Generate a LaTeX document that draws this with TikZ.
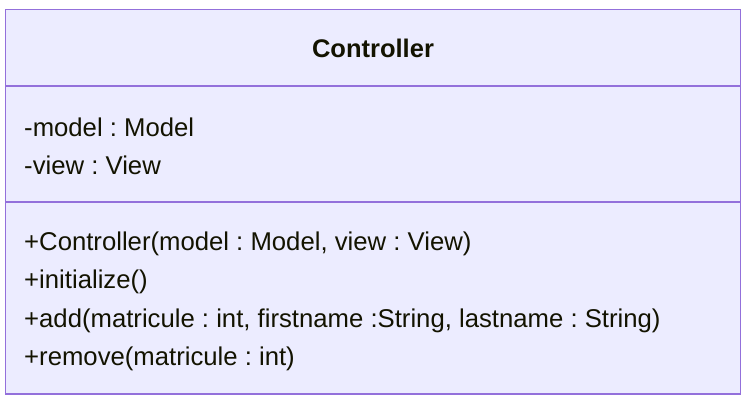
\documentclass[tikz,border=0pt]{standalone}
\usepackage{fontspec}
\setmainfont{Liberation Sans}
\frenchspacing
\definecolor{classfill}{HTML}{ECECFF}
\definecolor{classline}{HTML}{9370DB}
\definecolor{classtext}{HTML}{131300}
\begin{document}
\begin{tikzpicture}[x=1pt,y=-1pt,
  member/.style={anchor=base west,inner sep=0pt,text=classtext,font=\fontsize{25.7}{30}\selectfont},
  title/.style={anchor=base,inner sep=0pt,text=classtext,font=\fontsize{25.5}{30}\selectfont\bfseries},
  frame/.style={classline,line width=1.9pt}]
\useasboundingbox (0,0) rectangle (756,412);
% class box and compartment dividers
\draw[frame,fill=classfill] (5.5,9.5) rectangle (740.5,394);
\draw[frame] (5.5,86) -- (740.5,86);
\draw[frame] (5.5,202) -- (740.5,202);
% class name
\node[title] (name) at (373,58) {Controller};
% attributes
\node[member] (a1) at (24,136) {-model : Model};
\node[member] (a2) at (24,174) {-view : View};
% operations
\node[member] (o1) at (24,250) {+Controller(model : Model, view : View)};
\node[member] (o2) at (24,288.5) {+initialize()};
\node[member] (o3) at (24,327) {+add(matricule : int, firstname :String, lastname : String)};
\node[member] (o4) at (24,365.5) {+remove(matricule : int)};
\end{tikzpicture}
\end{document}
